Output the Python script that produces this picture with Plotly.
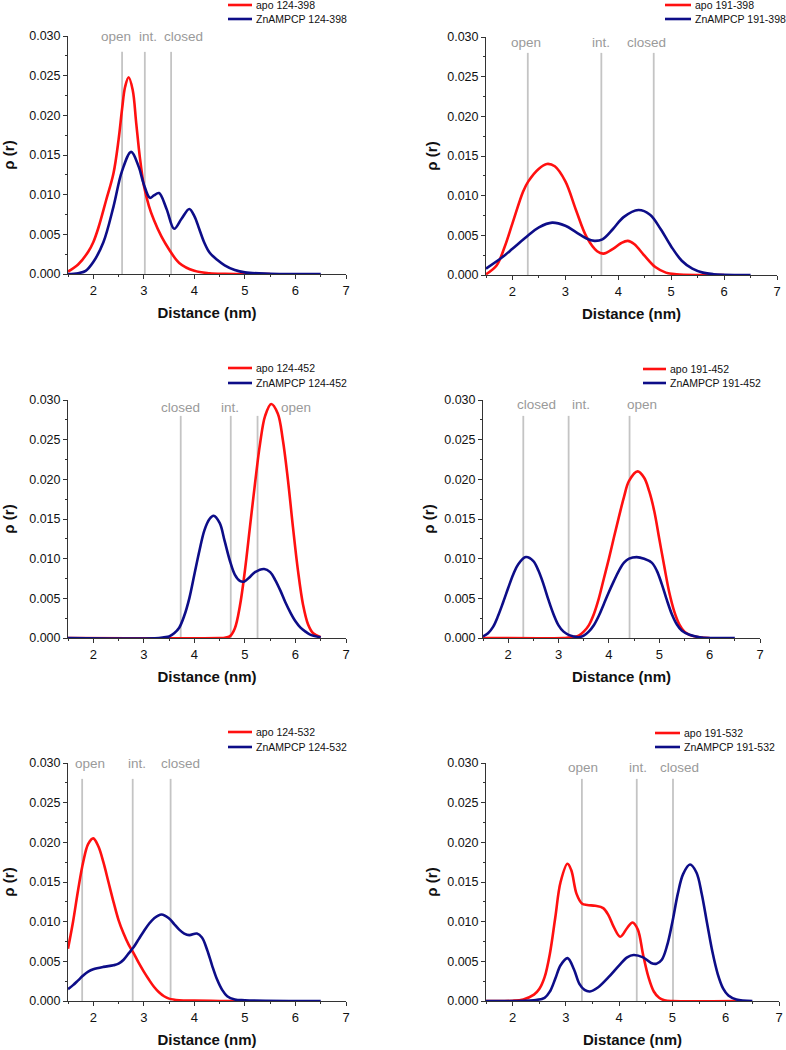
import plotly.graph_objects as go

W, H = 786, 1050

# ---------------- data ----------------
# Panel 1: 124-398
p1_apo_x = [1.5, 1.7, 1.9, 2.0, 2.1, 2.25, 2.4, 2.5, 2.57, 2.63, 2.7, 2.78, 2.85, 2.92, 3.0, 3.1, 3.2, 3.35, 3.5, 3.7, 4.0, 4.3, 4.6, 5.0, 5.5]
p1_apo_y = [0.0003, 0.0012, 0.0028, 0.0040, 0.0058, 0.0092, 0.0127, 0.0169, 0.0208, 0.0236, 0.0248, 0.0232, 0.0190, 0.0148, 0.0112, 0.0086, 0.0068, 0.0047, 0.0031, 0.0014, 0.0004, 0.0001, 0.00002, 0.0, 0.0]
p1_zn_x = [1.5, 1.7, 1.85, 2.0, 2.2, 2.4, 2.57, 2.75, 2.9, 3.0, 3.12, 3.2, 3.3, 3.45, 3.6, 3.75, 3.9, 4.0, 4.1, 4.2, 4.3, 4.45, 4.6, 4.8, 5.0, 5.5, 6.0, 6.5]
p1_zn_y = [0.0, 0.0001, 0.0004, 0.0015, 0.0040, 0.0085, 0.0130, 0.0154, 0.0135, 0.0113, 0.0096, 0.0099, 0.0102, 0.0082, 0.0057, 0.0070, 0.0082, 0.0073, 0.0056, 0.0039, 0.0027, 0.0018, 0.0011, 0.0005, 0.0002, 0.00004, 0.0, 0.0]

# Panel 2: 191-398
p2_apo_x = [1.5, 1.7, 1.85, 2.0, 2.2, 2.3, 2.5, 2.65, 2.8, 3.0, 3.2, 3.4, 3.6, 3.72, 3.9, 4.05, 4.18, 4.3, 4.5, 4.7, 4.9, 5.1, 5.5, 6.0]
p2_apo_y = [0.0001, 0.0012, 0.0035, 0.0065, 0.0105, 0.0118, 0.0134, 0.0140, 0.0137, 0.0118, 0.0082, 0.0048, 0.0030, 0.0027, 0.0033, 0.0040, 0.0043, 0.0039, 0.0024, 0.0010, 0.0003, 0.0001, 0.0, 0.0]
p2_zn_x = [1.5, 1.8, 2.0, 2.3, 2.5, 2.75, 3.0, 3.2, 3.4, 3.55, 3.7, 3.9, 4.1, 4.38, 4.6, 4.8, 5.0, 5.2, 5.4, 5.6, 5.8, 6.0, 6.5]
p2_zn_y = [0.0008, 0.0022, 0.0033, 0.0050, 0.0060, 0.0066, 0.0062, 0.0054, 0.0046, 0.0043, 0.0045, 0.0058, 0.0073, 0.0082, 0.0076, 0.0058, 0.0036, 0.0018, 0.0008, 0.0003, 0.0001, 0.00003, 0.0]

# Panel 3: 124-452
p3_apo_x = [1.5, 4.5, 4.6, 4.7, 4.8, 4.9, 5.0, 5.1, 5.2, 5.3, 5.4, 5.52, 5.65, 5.75, 5.85, 5.95, 6.05, 6.15, 6.25, 6.35, 6.5]
p3_apo_y = [0.0, 0.0, 0.00003, 0.0002, 0.0012, 0.0040, 0.0085, 0.0140, 0.0195, 0.0245, 0.0280, 0.0295, 0.0283, 0.0250, 0.0200, 0.0140, 0.0085, 0.0042, 0.0017, 0.0006, 0.0001]
p3_zn_x = [1.5, 3.3, 3.4, 3.5, 3.6, 3.7, 3.8, 3.9, 4.0, 4.1, 4.2, 4.3, 4.38, 4.5, 4.6, 4.7, 4.8, 4.9, 4.98, 5.1, 5.2, 5.38, 5.5, 5.6, 5.7, 5.8, 5.9, 6.0, 6.1, 6.2, 6.3, 6.5]
p3_zn_y = [0.0, 0.0, 0.0001, 0.0002, 0.0006, 0.0013, 0.0028, 0.0050, 0.0080, 0.0110, 0.0136, 0.0150, 0.0154, 0.0145, 0.0122, 0.0098, 0.0080, 0.0072, 0.0071, 0.0077, 0.0083, 0.0087, 0.0083, 0.0073, 0.0060, 0.0045, 0.0032, 0.0021, 0.0013, 0.0008, 0.0004, 0.0001]

# Panel 4: 191-452
p4_apo_x = [1.5, 3.1, 3.2, 3.3, 3.4, 3.5, 3.6, 3.7, 3.8, 3.9, 4.0, 4.1, 4.2, 4.3, 4.4, 4.57, 4.7, 4.8, 4.9, 5.0, 5.1, 5.2, 5.3, 5.4, 5.5, 5.6, 5.8, 6.0]
p4_apo_y = [0.0, 0.0, 0.00005, 0.0001, 0.0003, 0.0008, 0.0016, 0.0030, 0.0050, 0.0075, 0.0100, 0.0127, 0.0153, 0.0178, 0.0198, 0.0210, 0.0202, 0.0185, 0.0160, 0.0125, 0.0090, 0.0057, 0.0033, 0.0017, 0.0008, 0.0004, 0.0001, 0.0]
p4_zn_x = [1.5, 1.6, 1.7, 1.8, 1.9, 2.0, 2.1, 2.2, 2.35, 2.5, 2.6, 2.7, 2.8, 2.9, 3.0, 3.1, 3.2, 3.3, 3.4, 3.5, 3.6, 3.7, 3.8, 3.9, 4.0, 4.1, 4.2, 4.3, 4.4, 4.55, 4.7, 4.85, 4.95, 5.05, 5.15, 5.25, 5.35, 5.45, 5.6, 5.8, 6.0, 6.5]
p4_zn_y = [0.0002, 0.0006, 0.0014, 0.0028, 0.0045, 0.0063, 0.0080, 0.0093, 0.0102, 0.0097, 0.0085, 0.0068, 0.0048, 0.0030, 0.0016, 0.0008, 0.0004, 0.0002, 0.0001, 0.0003, 0.0008, 0.0016, 0.0028, 0.0043, 0.0058, 0.0072, 0.0085, 0.0095, 0.0100, 0.0102, 0.0100, 0.0095, 0.0085, 0.0068, 0.0048, 0.0030, 0.0017, 0.0009, 0.0004, 0.0001, 0.0, 0.0]

# Panel 5: 124-532
p5_apo_x = [1.5, 1.6, 1.7, 1.8, 1.9, 2.0, 2.1, 2.2, 2.3, 2.4, 2.5, 2.6, 2.7, 2.8, 2.9, 3.0, 3.1, 3.2, 3.3, 3.4, 3.5, 3.7, 4.0, 4.5, 5.0]
p5_apo_y = [0.0066, 0.0100, 0.0140, 0.0175, 0.0198, 0.0205, 0.0195, 0.0175, 0.0150, 0.0125, 0.0102, 0.0085, 0.0071, 0.0060, 0.0048, 0.0037, 0.0027, 0.0018, 0.0011, 0.0006, 0.0003, 0.0001, 0.00005, 0.0, 0.0]
p5_zn_x = [1.5, 1.6, 1.7, 1.8, 1.9, 2.0, 2.2, 2.4, 2.5, 2.6, 2.7, 2.8, 2.9, 3.0, 3.1, 3.2, 3.35, 3.5, 3.6, 3.7, 3.8, 3.9, 4.05, 4.15, 4.25, 4.35, 4.45, 4.55, 4.65, 4.8, 5.0, 6.5]
p5_zn_y = [0.0015, 0.0020, 0.0026, 0.0032, 0.0037, 0.0040, 0.0043, 0.0045, 0.0047, 0.0052, 0.0060, 0.0068, 0.0078, 0.0088, 0.0097, 0.0104, 0.0109, 0.0104, 0.0097, 0.0090, 0.0085, 0.0083, 0.0085, 0.0080, 0.0065, 0.0045, 0.0027, 0.0014, 0.0006, 0.0002, 0.0001, 0.0]

# Panel 6: 191-532
p6_apo_x = [1.5, 2.0, 2.2, 2.4, 2.5, 2.6, 2.7, 2.8, 2.9, 3.03, 3.1, 3.2, 3.3, 3.4, 3.55, 3.7, 3.8, 3.9, 4.02, 4.15, 4.25, 4.35, 4.45, 4.55, 4.65, 4.75, 4.85, 5.0, 6.2]
p6_apo_y = [0.0, 0.00003, 0.0002, 0.0008, 0.0015, 0.0030, 0.0060, 0.0105, 0.0150, 0.0173, 0.0165, 0.0135, 0.0123, 0.0121, 0.0120, 0.0117, 0.0108, 0.0093, 0.0081, 0.0092, 0.0099, 0.0090, 0.0058, 0.0030, 0.0012, 0.0004, 0.0001, 0.0, 0.0]
p6_zn_x = [1.5, 2.4, 2.6, 2.7, 2.8, 2.9, 3.03, 3.15, 3.25, 3.35, 3.45, 3.6, 3.8, 4.0, 4.15, 4.27, 4.45, 4.6, 4.7, 4.8, 4.9, 5.0, 5.1, 5.2, 5.33, 5.45, 5.55, 5.65, 5.75, 5.85, 5.95, 6.05, 6.2, 6.5]
p6_zn_y = [0.0, 0.0001, 0.0004, 0.0012, 0.0028, 0.0045, 0.0054, 0.0040, 0.0022, 0.0014, 0.0012, 0.0017, 0.0030, 0.0045, 0.0055, 0.0058, 0.0055, 0.0048, 0.0047, 0.0052, 0.0070, 0.0100, 0.0135, 0.0160, 0.0172, 0.0162, 0.0135, 0.0098, 0.0062, 0.0034, 0.0016, 0.0007, 0.0002, 0.0]

pair_names = ["124-398", "191-398", "124-452", "191-452", "124-532", "191-532"]
series_prefix = ["apo", "ZnAMPCP"]

# state reference lines (nm) and their labels
state_names = [
    ["open", "int.", "closed"],
    ["open", "int.", "closed"],
    ["closed", "int.", "open"],
    ["closed", "int.", "open"],
    ["open", "int.", "closed"],
    ["open", "int.", "closed"],
]
state_pos = [
    [2.57, 3.02, 3.54],
    [2.29, 3.68, 4.67],
    [3.73, 4.72, 5.25],
    [2.30, 3.20, 4.41],
    [1.78, 2.78, 3.53],
    [3.30, 4.33, 5.01],
]
label_pos = [
    [2.44, 3.09, 3.79],
    [2.26, 3.67, 4.53],
    [3.72, 4.71, 6.02],
    [2.56, 3.44, 4.65],
    [1.93, 2.86, 3.72],
    [3.33, 4.35, 5.14],
]
label_y = [0.0299, 0.0293, 0.0291, 0.0294, 0.0299, 0.0294]

apo_x = [p1_apo_x, p2_apo_x, p3_apo_x, p4_apo_x, p5_apo_x, p6_apo_x]
apo_y = [p1_apo_y, p2_apo_y, p3_apo_y, p4_apo_y, p5_apo_y, p6_apo_y]
zn_x = [p1_zn_x, p2_zn_x, p3_zn_x, p4_zn_x, p5_zn_x, p6_zn_x]
zn_y = [p1_zn_y, p2_zn_y, p3_zn_y, p4_zn_y, p5_zn_y, p6_zn_y]

# ---------------- layout (window pixel boxes) ----------------
# (x_left, x_right, y_top, y_bottom) of plot area, in window pixels
boxes = [
    (68, 346, 36, 274),
    (486, 777, 37, 275),
    (68, 346, 400, 638),
    (483, 760, 400, 638),
    (68, 346, 763, 1001),
    (486, 779, 763, 1001),
]
# legend: (line x0, line x1, text x, first row y, second row y) in window pixels
legend_px = [
    (228, 252, 254, 5, 19),
    (665, 691, 693, 5, 19),
    (228, 252, 254, 368, 383),
    (643, 666, 668, 369, 383),
    (228, 252, 254, 732, 747),
    (655, 680, 682, 733, 747),
]
ytitle_standoff = [14, 5, 14, 5, 14, 5]

RED = "#ff1010"
BLUE = "#0d0d88"
COLORS = [RED, BLUE]
GREY_LINE = "#c4c4c4"
GREY_TEXT = "#9a9a9a"
AXIS = "#333333"
FONT = "Liberation Sans, Arial, sans-serif"


def px_x(v):
    return v / W


def px_y(v):
    return 1 - v / H


fig = go.Figure()
layout = dict(
    width=W, height=H,
    margin=dict(l=0, r=0, t=0, b=0),
    paper_bgcolor="white", plot_bgcolor="white",
    font=dict(family=FONT, color="#111111", size=12),
    showlegend=False,
    hovermode=False,
    shapes=[], annotations=[],
)

for i in range(6):
    n = i + 1
    xa = "x" if n == 1 else f"x{n}"
    ya = "y" if n == 1 else f"y{n}"
    for k, (xs, ys) in enumerate([(apo_x[i], apo_y[i]), (zn_x[i], zn_y[i])]):
        fig.add_trace(go.Scatter(
            x=xs, y=ys, mode="lines",
            line=dict(color=COLORS[k], width=2.6, shape="spline", smoothing=1.0),
            name=f"{series_prefix[k]} {pair_names[i]}", xaxis=xa, yaxis=ya))

    x0, x1, y0, y1 = boxes[i]
    xkey = "xaxis" if n == 1 else f"xaxis{n}"
    ykey = "yaxis" if n == 1 else f"yaxis{n}"
    layout[xkey] = dict(
        domain=[px_x(x0), px_x(x1)], anchor=ya, range=[1.5, 7],
        tickmode="array", tickvals=[2, 3, 4, 5, 6, 7],
        ticks="outside", ticklen=4, tickwidth=1, tickcolor=AXIS,
        minor=dict(tickvals=[1.5, 2.5, 3.5, 4.5, 5.5, 6.5], ticks="outside", ticklen=2, tickcolor=AXIS),
        showline=True, linecolor=AXIS, linewidth=1, showgrid=False, zeroline=False,
        tickfont=dict(size=13, family=FONT, color="#111111"),
        title=dict(text="<b>Distance (nm)</b>", font=dict(size=15, family=FONT, color="#111111"), standoff=10),
        automargin=False, fixedrange=True,
    )
    layout[ykey] = dict(
        domain=[px_y(y1), px_y(y0)], anchor=xa, range=[0, 0.030],
        tickmode="array", tickvals=[0, 0.005, 0.010, 0.015, 0.020, 0.025, 0.030],
        ticktext=["0.000", "0.005", "0.010", "0.015", "0.020", "0.025", "0.030"],
        ticks="outside", ticklen=4, tickwidth=1, tickcolor=AXIS,
        minor=dict(tickvals=[0.0025, 0.0075, 0.0125, 0.0175, 0.0225, 0.0275], ticks="outside", ticklen=2, tickcolor=AXIS),
        showline=True, linecolor=AXIS, linewidth=1, showgrid=False, zeroline=False,
        tickfont=dict(size=12.5, family=FONT, color="#111111"),
        title=dict(text="<b>ρ (r)</b>", font=dict(size=15, family=FONT, color="#111111"), standoff=ytitle_standoff[i]),
        automargin=False, fixedrange=True,
    )

    # compact legend for this panel (swatch line + label, from the series names/colours)
    lx0, lx1, ltx, ly_a, ly_b = legend_px[i]
    for k, ly in enumerate([ly_a, ly_b]):
        layout["shapes"].append(dict(
            type="line", xref="paper", yref="paper",
            x0=px_x(lx0), x1=px_x(lx1), y0=px_y(ly), y1=px_y(ly),
            line=dict(color=COLORS[k], width=2.6)))
        layout["annotations"].append(dict(
            xref="paper", yref="paper", x=px_x(ltx), y=px_y(ly),
            text=f"{series_prefix[k]} {pair_names[i]}", showarrow=False,
            xanchor="left", yanchor="middle",
            font=dict(size=10.5, family=FONT, color="#111111")))

    for s, pos in enumerate(state_pos[i]):
        layout["shapes"].append(dict(
            type="line", xref=xa, yref=ya, x0=pos, x1=pos, y0=0, y1=0.0280,
            line=dict(color=GREY_LINE, width=1.8), layer="below"))
        layout["annotations"].append(dict(
            xref=xa, yref=ya, x=label_pos[i][s], y=label_y[i], text=state_names[i][s],
            showarrow=False, xanchor="center", yanchor="middle",
            font=dict(size=13.5, family=FONT, color=GREY_TEXT)))

fig.update_layout(**layout)
# remove the browser's default 8px body margin so the figure fills the window exactly
fig.write_html("out.html", config={"displayModeBar": False, "staticPlot": True},
               post_script="document.body.style.margin='0px';")
